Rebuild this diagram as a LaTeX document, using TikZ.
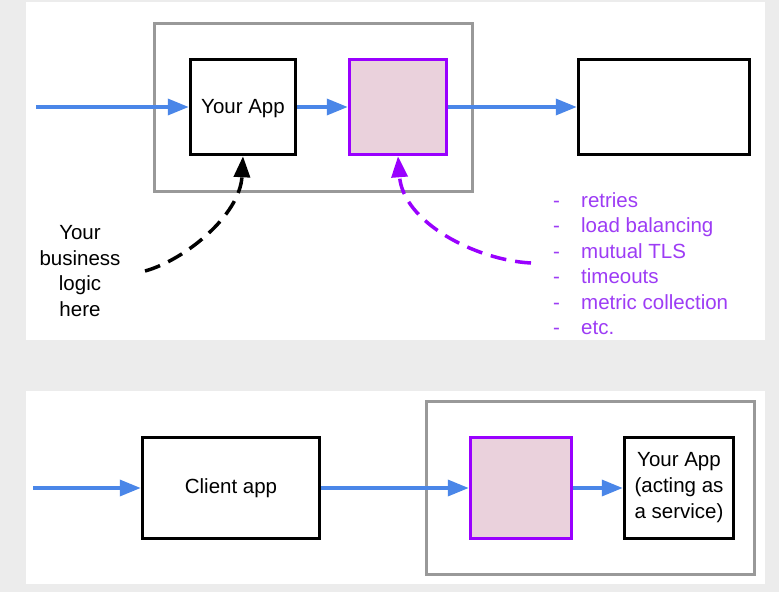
\documentclass[tikz,border=0pt]{standalone}
\usepackage{fontspec}
\setmainfont{Liberation Sans}
\usetikzlibrary{arrows.meta}
\definecolor{flowblue}{HTML}{4A86E8}
\definecolor{meshpurple}{HTML}{9900FF}
\definecolor{listpurple}{HTML}{9D3CF5}
\definecolor{proxypink}{HTML}{EAD1DC}
\definecolor{podgrey}{HTML}{999999}
\definecolor{slidegrey}{HTML}{ECECEC}
\begin{document}
\begin{tikzpicture}[x=1pt,y=-1pt]
				\tikzstyle{every node}=[font=\fontsize{20.5}{25.5}\selectfont]
				\tikzstyle{appbox}=[rectangle, draw=black, line width=3.5pt, fill=white, align=center, inner sep=2pt]
				\tikzstyle{proxybox}=[rectangle, draw=meshpurple, line width=3.5pt, fill=proxypink]
				\tikzstyle{podbox}=[rectangle, draw=podgrey, line width=3pt]
				\tikzstyle{flow}=[draw=flowblue, line width=3.5pt, -{Triangle[length=21pt,width=16pt]}]
				\tikzstyle{hint}=[line width=3.5pt, dash pattern=on 16pt off 9pt, -{Triangle[length=21pt,width=16pt]}]
				% slide background and panels
				\fill[slidegrey] (0,0) rectangle (779,592);
				\fill[white] (26,2) rectangle (765,340);
				\fill[white] (26,391) rectangle (765,584);
				% top: app with sidecar
				\node[podbox, minimum width=318pt, minimum height=168pt] (pod) at (313.5,107.5) {};
				\node[appbox, minimum width=105pt, minimum height=95pt] (app) at (243,107) {};
				\node (apptext) at (243,109) {Your App};
				\node[proxybox, minimum width=97pt, minimum height=95pt] (proxy) at (398,107) {};
				\node[appbox, minimum width=171pt, minimum height=95pt] (remote) at (664,107) {};
				\coordinate (in) at (36,107);
				\draw[flow] (in) -- (app.west);
				\draw[flow] (app.east) -- (proxy.west);
				\draw[flow] (proxy.east) -- (remote.west);
				\node[align=center] (logic) at (80,271) {Your\\business\\logic\\here};
				\node[text=listpurple, align=left, anchor=north west, inner sep=0pt] (perks) at (553,192)
					{\makebox[28pt][l]{-}retries\\ \makebox[28pt][l]{-}load balancing\\ \makebox[28pt][l]{-}mutual TLS\\
					 \makebox[28pt][l]{-}timeouts\\ \makebox[28pt][l]{-}metric collection\\ \makebox[28pt][l]{-}etc.};
				\coordinate (logictail) at (145,271);
				\coordinate (perkstail) at (531,263);
				\draw[hint, draw=black] (logictail) .. controls (185,260) and (240,215) .. (app.south);
				\draw[hint, draw=meshpurple] (perkstail) .. controls (475,260) and (403,222) .. (proxy.south);
				% bottom: app acting as a service
				\node[podbox, minimum width=328pt, minimum height=173pt] (svcpod) at (590.5,488) {};
				\node[appbox, minimum width=177pt, minimum height=101pt] (client) at (231,488) {Client app};
				\node[proxybox, minimum width=101pt, minimum height=101pt] (svcproxy) at (521,488) {};
				\node[appbox, minimum width=109pt, minimum height=101pt, font=\fontsize{20.5}{26}\selectfont] (service) at (679,488) {Your App\\(acting as\\a service)};
				\coordinate (clientin) at (33,488);
				\draw[flow] (clientin) -- (client.west);
				\draw[flow] (client.east) -- (svcproxy.west);
				\draw[flow] (svcproxy.east) -- (service.west);
			\end{tikzpicture}
\end{document}
